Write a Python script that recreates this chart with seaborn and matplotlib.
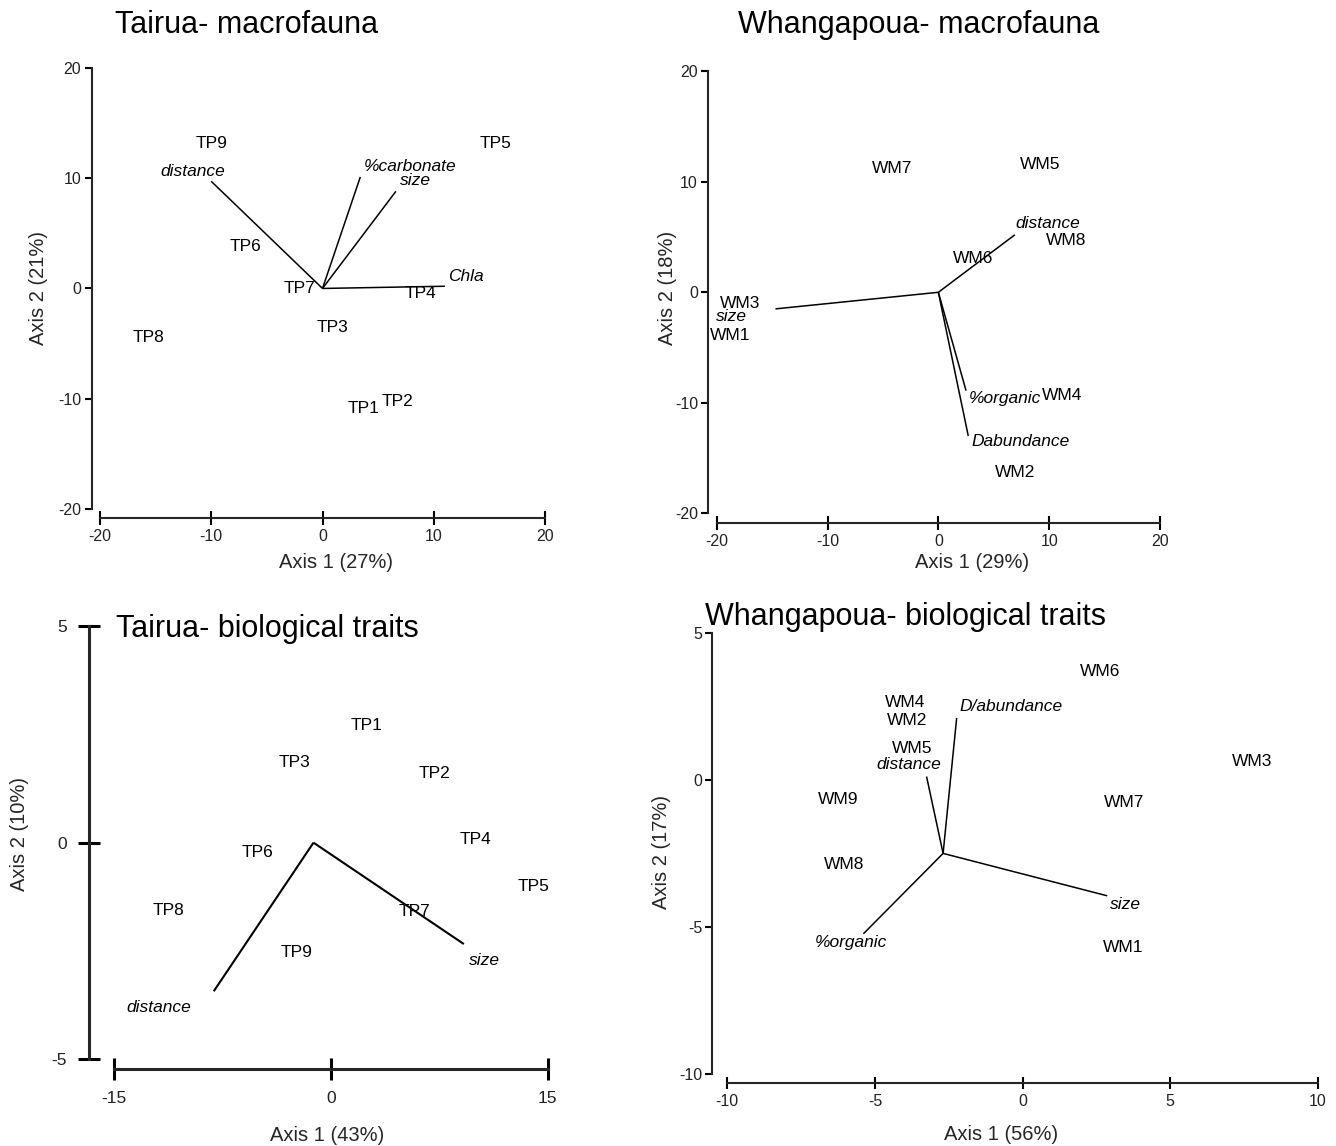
import matplotlib
matplotlib.use("Agg")
import matplotlib.pyplot as plt
import seaborn as sns

# Tairua - macrofauna
tm_sites = ["TP1", "TP2", "TP3", "TP4", "TP5", "TP6", "TP7", "TP8", "TP9"]
tm_x = [3.7, 6.7, 0.9, 8.8, 15.6, -6.9, -2.1, -15.6, -10.0]
tm_y = [-10.9, -10.2, -3.5, -0.5, 13.1, 3.8, 0.0, -4.4, 13.1]
tm_vars = ["distance", "%carbonate", "size", "Chla"]
tm_vx = [-10.0, 3.4, 6.6, 11.0]
tm_vy = [9.7, 10.1, 8.8, 0.2]
tm_lx = [-11.7, 7.9, 8.4, 12.9]
tm_ly = [10.6, 11.0, 9.8, 1.1]
tm_origin = (0.0, 0.0)

# Whangapoua - macrofauna
wm_sites = ["WM1", "WM2", "WM3", "WM4", "WM5", "WM6", "WM7", "WM8"]
wm_x = [-18.8, 6.9, -17.9, 11.2, 9.2, 3.1, -4.2, 11.5]
wm_y = [-3.9, -16.3, -1.0, -9.3, 11.6, 3.1, 11.2, 4.7]
wm_vars = ["distance", "size", "%organic", "Dabundance"]
wm_vx = [6.9, -14.7, 2.5, 2.7]
wm_vy = [5.2, -1.5, -8.9, -13.0]
wm_lx = [9.9, -18.7, 6.0, 7.45]
wm_ly = [6.2, -2.2, -9.6, -13.5]
wm_origin = (0.0, 0.0)

# Tairua - biological traits
tb_sites = ["TP1", "TP2", "TP3", "TP4", "TP5", "TP6", "TP7", "TP8", "TP9"]
tb_x = [2.5, 7.2, -2.5, 10.0, 14.0, -5.1, 5.8, -11.2, -2.4]
tb_y = [2.7, 1.59, 1.86, 0.07, -1.01, -0.23, -1.59, -1.56, -2.53]
tb_vars = ["size", "distance"]
tb_vx = [9.2, -8.1]
tb_vy = [-2.34, -3.43]
tb_lx = [10.6, -11.9]
tb_ly = [-2.72, -3.81]
tb_origin = (-1.2, 0.0)

# Whangapoua - biological traits
wb_sites = ["WM1", "WM2", "WM3", "WM4", "WM5", "WM6", "WM7", "WM8", "WM9"]
wb_x = [3.4, -3.92, 7.77, -3.97, -3.73, 2.64, 3.43, -6.04, -6.23]
wb_y = [-5.71, 2.0, 0.63, 2.61, 1.05, 3.67, -0.76, -2.86, -0.66]
wb_vars = ["D/abundance", "distance", "size", "%organic"]
wb_vx = [-2.23, -3.25, 2.87, -5.39]
wb_vy = [2.1, 0.11, -3.94, -5.23]
wb_lx = [-0.39, -3.86, 3.5, -5.8]
wb_ly = [2.49, 0.53, -4.22, -5.54]
wb_origin = (-2.69, -2.5)

sns.set_style("ticks")
plt.rcParams["font.family"] = ["Liberation Sans", "DejaVu Sans"]
plt.rcParams["axes.unicode_minus"] = False
plt.rcParams["text.color"] = "black"

W, H = 1336, 1146
fig = plt.figure(figsize=(W / 100, H / 100), dpi=100)


def px_axes(x0, x1, y0, y1):
    # axes rectangle from pixel corners (y measured from the top)
    return fig.add_axes([x0 / W, 1 - y1 / H, (x1 - x0) / W, (y1 - y0) / H])


def draw_panel(ax, sites, sx, sy, vnames, vx, vy, lx, ly, origin,
               xticks, yticks, fs=12.5, lw=1.1):
    ox, oy = origin
    for x, y in zip(vx, vy):
        ax.plot([ox, x], [oy, y], color="black", lw=lw, solid_capstyle="butt")
    for s, x, y in zip(sites, sx, sy):
        ax.text(x, y, s, ha="center", va="center", fontsize=fs)
    for s, x, y in zip(vnames, lx, ly):
        ax.text(x, y, s, ha="center", va="center", fontsize=fs, style="italic")
    ax.set_xticks(xticks)
    ax.set_yticks(yticks)
    ax.set_xlim(xticks[0], xticks[-1])
    ax.set_ylim(yticks[0], yticks[-1])


# panel 1
ax1 = px_axes(100, 545, 67.6, 509.3)
draw_panel(ax1, tm_sites, tm_x, tm_y, tm_vars, tm_vx, tm_vy, tm_lx, tm_ly,
           tm_origin, [-20, -10, 0, 10, 20], [-20, -10, 0, 10, 20])
sns.despine(ax=ax1, offset={"left": 6, "bottom": 6.5}, trim=True)
ax1.tick_params(axis="y", direction="out", length=5, width=1.5, pad=2.5, labelsize=11.5)
ax1.tick_params(axis="x", direction="inout", length=10, width=1.5, pad=3, labelsize=11.5)
ax1.set_xlabel("Axis 1 (27%)", fontsize=14.5)
ax1.set_ylabel("Axis 2 (21%)", fontsize=14.5)
ax1.xaxis.set_label_coords(0.531, -0.099)
ax1.yaxis.set_label_coords(-0.117, 0.501)

# panel 2
ax2 = px_axes(716.7, 1160, 71.3, 513.3)
draw_panel(ax2, wm_sites, wm_x, wm_y, wm_vars, wm_vx, wm_vy, wm_lx, wm_ly,
           wm_origin, [-20, -10, 0, 10, 20], [-20, -10, 0, 10, 20])
sns.despine(ax=ax2, offset={"left": 6, "bottom": 6.8}, trim=True)
ax2.tick_params(axis="y", direction="out", length=5, width=1.5, pad=2.5, labelsize=11.5)
ax2.tick_params(axis="x", direction="inout", length=10, width=1.5, pad=3, labelsize=11.5)
ax2.set_xlabel("Axis 1 (29%)", fontsize=14.5)
ax2.set_ylabel("Axis 2 (18%)", fontsize=14.5)
ax2.xaxis.set_label_coords(0.575, -0.09)
ax2.yaxis.set_label_coords(-0.09, 0.51)

# panel 3
ax3 = px_axes(114, 547.7, 626, 1059.3)
draw_panel(ax3, tb_sites, tb_x, tb_y, tb_vars, tb_vx, tb_vy, tb_lx, tb_ly,
           tb_origin, [-15, 0, 15], [-5, 0, 5], fs=12.5, lw=1.5)
sns.despine(ax=ax3, offset={"left": 18, "bottom": 6.7}, trim=True)
for sp in ax3.spines.values():
    sp.set_linewidth(2.2)
ax3.tick_params(axis="both", direction="inout", length=16, width=2.2, pad=8, labelsize=12.5)
ax3.set_xlabel("Axis 1 (43%)", fontsize=14.5)
ax3.set_ylabel("Axis 2 (10%)", fontsize=14.5)
ax3.xaxis.set_label_coords(0.491, -0.155)
ax3.yaxis.set_label_coords(-0.196, 0.52)

# panel 4
ax4 = px_axes(727.3, 1317.7, 632.5, 1074.3)
draw_panel(ax4, wb_sites, wb_x, wb_y, wb_vars, wb_vx, wb_vy, wb_lx, wb_ly,
           wb_origin, [-10, -5, 0, 5, 10], [-10, -5, 0, 5], fs=12.5)
sns.despine(ax=ax4, offset={"left": 10.8, "bottom": 6.5}, trim=True)
ax4.tick_params(axis="y", direction="out", length=5, width=1.5, pad=2, labelsize=11.5)
ax4.tick_params(axis="x", direction="inout", length=9, width=1.5, pad=3, labelsize=11.5)
ax4.set_xlabel("Axis 1 (56%)", fontsize=14.5)
ax4.set_ylabel("Axis 2 (17%)", fontsize=14.5)
ax4.xaxis.set_label_coords(0.4636, -0.114)
ax4.yaxis.set_label_coords(-0.095, 0.503)

for ax in (ax1, ax2, ax4):
    for sp in ax.spines.values():
        sp.set_linewidth(1.5)
for ax in (ax1, ax2, ax3, ax4):
    ax.tick_params(colors="black", labelcolor="#222222")
    ax.patch.set_alpha(0)

fig.text(115 / W, 1 - 33 / H, "Tairua- macrofauna", fontsize=22, ha="left", va="baseline")
fig.text(738 / W, 1 - 33 / H, "Whangapoua- macrofauna", fontsize=22, ha="left", va="baseline")
fig.text(115.7 / W, 1 - 636.7 / H, "Tairua- biological traits", fontsize=22, ha="left", va="baseline")
fig.text(705 / W, 1 - 625 / H, "Whangapoua- biological traits", fontsize=22, ha="left", va="baseline")

fig.savefig("out.png", dpi=100, facecolor="white")
